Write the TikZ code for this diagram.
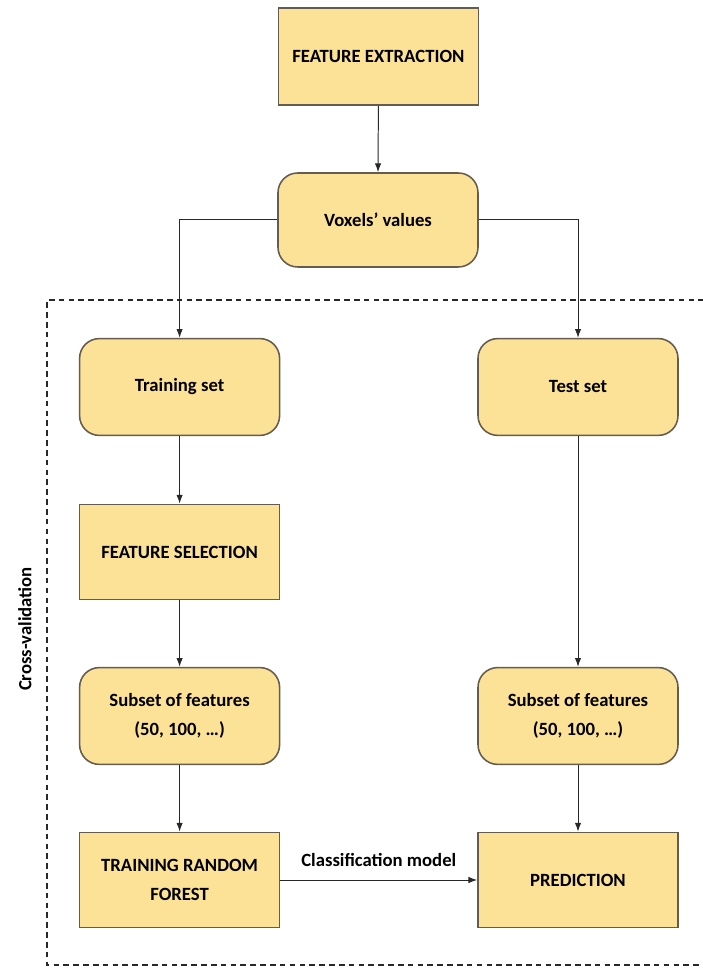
\documentclass[tikz,border=0pt]{standalone}
\usepackage{fontspec}
\setmainfont{Carlito}
\usetikzlibrary{arrows.meta,positioning}
\definecolor{BoxGold}{RGB}{251,226,150}
\definecolor{BoxEdge}{RGB}{100,92,78}
\definecolor{LineGray}{RGB}{40,40,40}
\tikzset{
  >=Latex,
  box/.style={draw=BoxEdge,line width=1.1pt,fill=BoxGold,align=center,text=black,font=\fontsize{13.3}{16}\selectfont\bfseries,minimum width=5cm,minimum height=2.42cm,inner sep=2pt},
  roundbox/.style={box,rounded corners=14pt},
  flow/.style={-{Latex[length=2.2mm,width=1.6mm]},line width=0.7pt,draw=LineGray},
  cvframe/.style={line width=0.8pt,draw=LineGray,dash pattern=on 4pt off 3pt},
  label/.style={font=\fontsize{13.3}{16}\selectfont\bfseries,text=black}
}
\begin{document}
\begin{tikzpicture}[x=1cm,y=1cm]
  \useasboundingbox[fill=white] (0,0) rectangle (17.55,24.225);
  % cross-validation frame
  \coordinate (cvTR) at (17.6,16.725);
  \coordinate (cvTL) at (1.175,16.725);
  \coordinate (cvBL) at (1.175,0.1);
  \coordinate (cvBR) at (17.6,0.1);
  \draw[cvframe] (cvTR)--(cvTL)--(cvBL)--(cvBR);
  \node[label,rotate=90] (cvlabel) at (0.62,8.5) {Cross-validation};
  % boxes
  \node[box] (extract) at (9.46,22.81) {FEATURE EXTRACTION};
  \node[roundbox,minimum height=2.35cm] (voxels) at (9.45,18.725) {Voxels’ values};
  \node[roundbox] (train) at (4.49,14.55) {Training set};
  \node[roundbox] (test) at (14.45,14.55) {Test set};
  \node[box,minimum height=2.38cm] (select) at (4.49,10.425) {FEATURE SELECTION};
  \node[roundbox] (subL) at (4.49,6.325) {Subset of features\\[4.5pt](50, 100, …)};
  \node[roundbox] (subR) at (14.45,6.325) {Subset of features\\[4.5pt](50, 100, …)};
  \node[box,minimum height=2.38cm] (forest) at (4.49,2.225) {TRAINING RANDOM\\[4.5pt]FOREST};
  \node[box,minimum height=2.38cm] (predict) at (14.45,2.225) {PREDICTION};
  % connectors
  \draw[flow] (extract.south)--(voxels.north);
  \draw[flow] (voxels.west)-|(train.north);
  \draw[flow] (voxels.east)-|(test.north);
  \draw[flow] (train.south)--(select.north);
  \draw[flow] (select.south)--(subL.north);
  \draw[flow] (subL.south)--(forest.north);
  \draw[flow] (test.south)--(subR.north);
  \draw[flow] (subR.south)--(predict.north);
  \draw[flow] (forest.east)--node[label,above=6pt] (model) {Classification model} (predict.west);
\end{tikzpicture}
\end{document}
